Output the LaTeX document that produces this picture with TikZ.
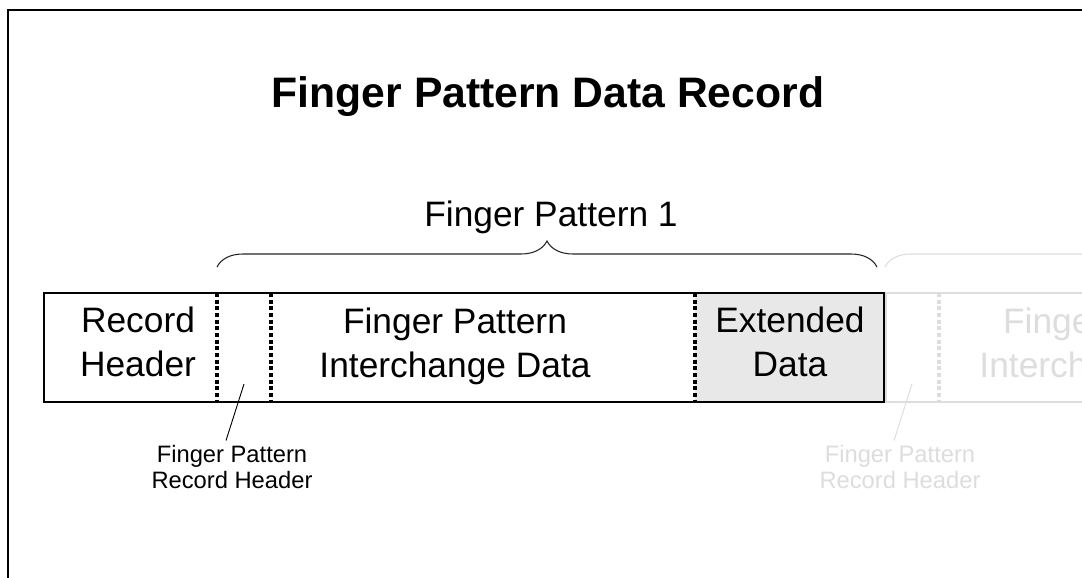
\documentclass[tikz,border=0pt]{standalone}
\usepackage{fontspec}
\setmainfont{Liberation Sans}
\usepackage{tikz}
\usetikzlibrary{calc,positioning,decorations.pathreplacing}
\definecolor{faded}{RGB}{221,221,221}
\definecolor{extfill}{RGB}{232,232,232}
\tikzset{
  field/.style={align=center,font=\fontsize{26.5}{33}\selectfont},
  smalllabel/.style={align=center,font=\fontsize{17.8}{19.5}\selectfont},
  sepline/.style={line width=2.5pt,dash pattern=on 3pt off 2pt},
  curly/.style={decorate,decoration={brace,amplitude=19.5pt},line width=0.8pt}
}

\begin{document}
\begin{tikzpicture}[x=0.75pt,y=-0.75pt]
\pgfmathsetmacro{\yT}{293}
\pgfmathsetmacro{\yB}{402}
\pgfmathsetmacro{\yBr}{267}

\clip (0,0) rectangle (1082,578);
\fill[white] (0,0) rectangle (1082,578);
\draw[line width=1.6pt] (8,640) -- (8,10) -- (1140,10);

% next record, faded out
\draw[faded,line width=1.8pt] (886,\yT) rectangle (1300,\yB);
\draw[sepline,faded] (939,\yT) -- (939,\yB);
\node[field,text=faded] (fpdatanext) at (1115,346) {Finger Pattern\\Interchange Data};

% first record
\fill[extfill] (695,\yT) rectangle (884,\yB);
\draw[line width=2.2pt] (44,\yT) rectangle (884,\yB);
\foreach \xs in {217,271,695}{
  \draw[sepline] (\xs,\yT) -- (\xs,\yB);
}
\node[field] (rechdr) at (138,342) {Record\\Header};
\node[field] (fpdata) at (455,346) {Finger Pattern\\Interchange Data};
\node[field] (extdata) at (790,342) {Extended\\Data};

\node[font=\bfseries\fontsize{32}{38}\selectfont,anchor=base] (title) at (548,107) {Finger Pattern Data Record};
\node[font=\fontsize{26.5}{33}\selectfont,anchor=base] (fpone) at (551,226) {Finger Pattern 1};

% braces
\coordinate (brA) at (217,\yBr);
\coordinate (brB) at (877,\yBr);
\coordinate (brC) at (885,\yBr);
\coordinate (brD) at (1545,\yBr);
\draw[curly,black!85] (brA) -- (brB);
\draw[curly,faded] (brC) -- (brD);

% record header labels
\coordinate (hdrpt) at (244,384);
\coordinate (hdrptnext) at (912,384);
\node[smalllabel] (hdrlbl) at (232,467) {Finger Pattern\\Record Header};
\node[smalllabel,text=faded] (hdrlblnext) at (900,467) {Finger Pattern\\Record Header};
\draw[line width=0.7pt] (hdrpt) -- ($(hdrlbl.north)+(-6,0)$);
\draw[line width=0.7pt,faded] (hdrptnext) -- ($(hdrlblnext.north)+(-6,0)$);
\end{tikzpicture}
\end{document}
